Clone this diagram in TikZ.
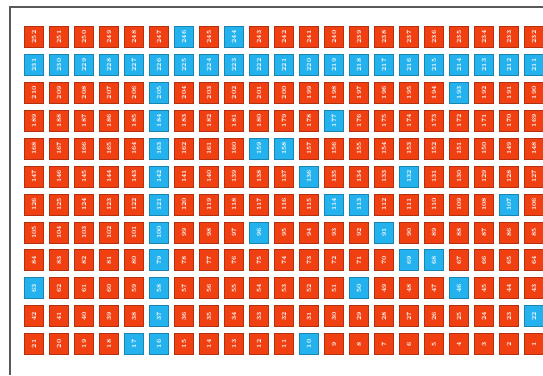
\documentclass[tikz,border=0pt]{standalone}
\usepackage{tikz}
\usetikzlibrary{positioning}
\definecolor{cellred}{RGB}{240,64,18}
\definecolor{cellblue}{RGB}{36,178,238}
\tikzset{
  cell/.style={rectangle, rotate=90, minimum width=21pt, minimum height=19pt, inner sep=0pt, line width=0.6pt, text=white, font=\fontsize{6.5}{6.5}\selectfont\bfseries},
  frameline/.style={draw=black!65, line width=1.3pt}
}
\newcommand\bluelist{246,244,231,230,229,228,227,226,225,224,223,222,221,220,219,218,217,216,215,214,213,212,211,205,193,184,177,163,159,158,142,136,132,121,114,113,107,100,96,91,79,69,68,63,58,50,46,37,22,17,16,10}
\makeatletter
\newcommand\pickcellcolor[1]{\def\cellfill{cellred}%
  \edef\tmp@cell{\noexpand\in@{,#1,}{,\bluelist,}}\tmp@cell
  \ifin@\def\cellfill{cellblue}\fi}
\makeatother

\begin{document}
\begin{tikzpicture}[x=1pt, y=-1pt]
  \useasboundingbox (0,0) rectangle (543,375);
  % frame
  \draw[frameline] (10,375) -- (10,7) -- (543,7);
  % grid of numbered cells, counted right to left from the bottom row
  \foreach \r in {1,...,12}{
    \foreach \c in {1,...,21}{
      \pgfmathtruncatemacro\n{21*(12-\r)+22-\c}
      \pickcellcolor{\n}
      \node[cell, fill=\cellfill, draw=\cellfill!75!black] (v\n) at ({34+25*(\c-1)},{37+27.9*(\r-1)}) {\n};
    }
  }
\end{tikzpicture}
\end{document}
